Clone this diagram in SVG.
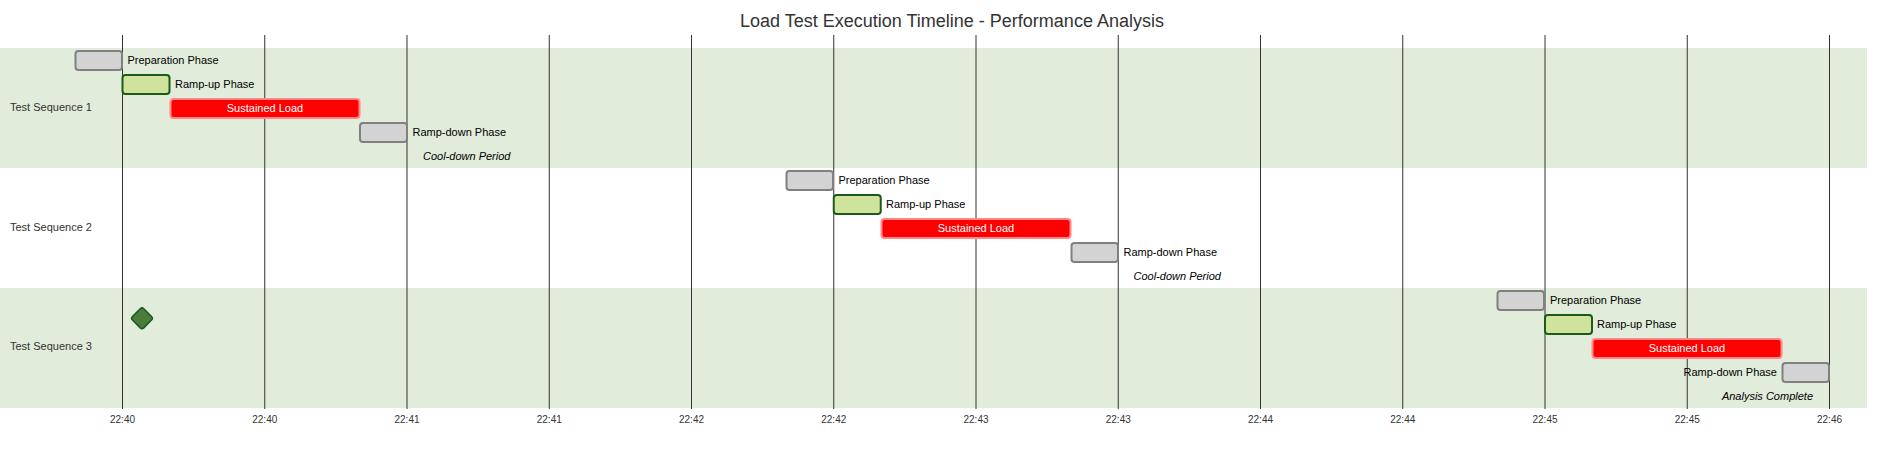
<svg xmlns="http://www.w3.org/2000/svg" width="1904" height="460" viewBox="0 0 1904 460">
<style>
.band{fill:#e1ecdb}
.grid{stroke:#333;stroke-width:1}
.tick{font-family:"Liberation Sans",Arial,sans-serif;font-size:10px;fill:#333;text-anchor:middle}
.sec{font-family:"Liberation Sans",Arial,sans-serif;font-size:11px;fill:#333}
.lbl{font-family:"Liberation Sans",Arial,sans-serif;font-size:11px;fill:#000}
.ital{font-family:"Liberation Sans",Arial,sans-serif;font-size:11px;fill:#000;font-style:italic}
.in{font-family:"Liberation Sans",Arial,sans-serif;font-size:11px;fill:#fff;text-anchor:middle}
.done{fill:#d3d3d3;stroke:#808080;stroke-width:2}
.act{fill:#cfe39d;stroke:#1c5a1c;stroke-width:2}
.crit{fill:#ff0000;stroke:#ff8888;stroke-width:2}
.ms{fill:#4a7c3a;stroke:#1e5a1e;stroke-width:1.5}
.title{font-family:"Liberation Sans",Arial,sans-serif;font-size:18px;fill:#333;text-anchor:middle}
</style>
<rect width="1904" height="460" fill="#fff"/>
<text class="title" x="952" y="27">Load Test Execution Timeline - Performance Analysis</text>
<g id="sections">
<rect class="band" x="0" y="48" width="1867" height="120"/>
<rect class="band" x="0" y="288" width="1867" height="120"/>
<text class="sec" x="10" y="111">Test Sequence 1</text>
<text class="sec" x="10" y="231">Test Sequence 2</text>
<text class="sec" x="10" y="350">Test Sequence 3</text>
</g>
<g id="grid">
<line class="grid" x1="122.5" y1="35" x2="122.5" y2="409"/>
<line class="grid" x1="264.75" y1="35" x2="264.75" y2="409"/>
<line class="grid" x1="407" y1="35" x2="407" y2="409"/>
<line class="grid" x1="549.25" y1="35" x2="549.25" y2="409"/>
<line class="grid" x1="691.5" y1="35" x2="691.5" y2="409"/>
<line class="grid" x1="833.75" y1="35" x2="833.75" y2="409"/>
<line class="grid" x1="976" y1="35" x2="976" y2="409"/>
<line class="grid" x1="1118.25" y1="35" x2="1118.25" y2="409"/>
<line class="grid" x1="1260.5" y1="35" x2="1260.5" y2="409"/>
<line class="grid" x1="1402.75" y1="35" x2="1402.75" y2="409"/>
<line class="grid" x1="1545" y1="35" x2="1545" y2="409"/>
<line class="grid" x1="1687.25" y1="35" x2="1687.25" y2="409"/>
<line class="grid" x1="1829.5" y1="35" x2="1829.5" y2="409"/>
<text class="tick" x="122.5" y="423">22:40</text>
<text class="tick" x="264.75" y="423">22:40</text>
<text class="tick" x="407" y="423">22:41</text>
<text class="tick" x="549.25" y="423">22:41</text>
<text class="tick" x="691.5" y="423">22:42</text>
<text class="tick" x="833.75" y="423">22:42</text>
<text class="tick" x="976" y="423">22:43</text>
<text class="tick" x="1118.25" y="423">22:43</text>
<text class="tick" x="1260.5" y="423">22:44</text>
<text class="tick" x="1402.75" y="423">22:44</text>
<text class="tick" x="1545" y="423">22:45</text>
<text class="tick" x="1687.25" y="423">22:45</text>
<text class="tick" x="1829.5" y="423">22:46</text>
</g>
<g id="seq1">
<rect class="done" x="75.5" y="51" width="46.5" height="19" rx="3"/>
<text class="lbl" x="127.5" y="64">Preparation Phase</text>
<rect class="act" x="122.5" y="75" width="47" height="19" rx="3"/>
<text class="lbl" x="175" y="88">Ramp-up Phase</text>
<rect class="crit" x="170.5" y="99" width="189" height="19" rx="3"/>
<text class="in" x="265" y="112">Sustained Load</text>
<rect class="done" x="360" y="123" width="47" height="19" rx="3"/>
<text class="lbl" x="412.5" y="136">Ramp-down Phase</text>
<text class="ital" x="423" y="160">Cool-down Period</text>
</g>
<g id="seq2">
<rect class="done" x="786.5" y="171" width="46.5" height="19" rx="3"/>
<text class="lbl" x="838.5" y="184">Preparation Phase</text>
<rect class="act" x="833.75" y="195" width="47" height="19" rx="3"/>
<text class="lbl" x="886" y="208">Ramp-up Phase</text>
<rect class="crit" x="881.5" y="219" width="189" height="19" rx="3"/>
<text class="in" x="976" y="232">Sustained Load</text>
<rect class="done" x="1071.5" y="243" width="46.5" height="19" rx="3"/>
<text class="lbl" x="1123.5" y="256">Ramp-down Phase</text>
<text class="ital" x="1133.5" y="280">Cool-down Period</text>
</g>
<g id="seq3">
<rect class="done" x="1497.5" y="291" width="46.5" height="19" rx="3"/>
<text class="lbl" x="1550" y="304">Preparation Phase</text>
<rect class="act" x="1545" y="315" width="47" height="19" rx="3"/>
<text class="lbl" x="1597" y="328">Ramp-up Phase</text>
<rect class="crit" x="1592.5" y="339" width="189" height="19" rx="3"/>
<text class="in" x="1687" y="352">Sustained Load</text>
<rect class="done" x="1782.5" y="363" width="46.5" height="19" rx="3"/>
<text class="lbl" x="1777" y="376" text-anchor="end">Ramp-down Phase</text>
<text class="ital" x="1813" y="400" text-anchor="end">Analysis Complete</text>
</g>
<g id="milestone">
<rect class="ms" x="134" y="310.3" width="16" height="16" rx="2.5" transform="rotate(45 142 318.3)"/>
</g>
</svg>
